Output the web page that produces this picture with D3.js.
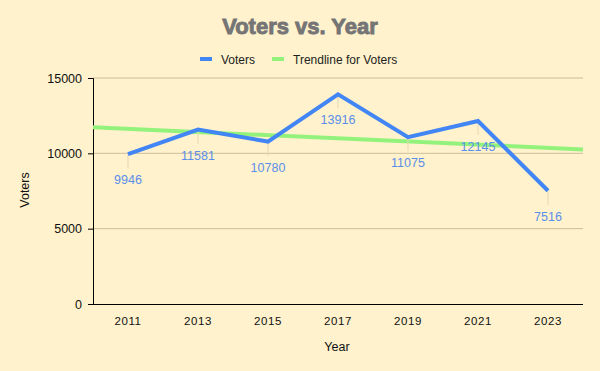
<!DOCTYPE html>
<html>
<head>
<meta charset="utf-8">
<script src="https://cdn.jsdelivr.net/npm/d3@7"></script>
<style>
  body { margin: 0; background: #fff2cc; }
  text { font-family: Arial, "Liberation Sans", sans-serif; }
</style>
</head>
<body>
<svg id="chart" width="600" height="371"></svg>
<script>
// data
const years = ["2011", "2013", "2015", "2017", "2019", "2021", "2023"];
const voters = [9946, 11581, 10780, 13916, 11075, 12145, 7516];
const yTicks = [0, 5000, 10000, 15000];

const svg = d3.select("#chart");
const W = 600, H = 371;
const m = { left: 93, right: 17, top: 78, bottom: 67 };

svg.append("rect").attr("width", W).attr("height", H).attr("fill", "#fff2cc");

const x = d3.scaleBand().domain(years).range([m.left, W - m.right]);
const y = d3.scaleLinear().domain([0, 15000]).range([H - m.bottom, m.top]);
const cx = d => x(d) + x.bandwidth() / 2;

// gridlines
svg.append("g").selectAll("line").data(yTicks.filter(t => t > 0)).join("line")
  .attr("x1", m.left).attr("x2", W - m.right)
  .attr("y1", d => y(d)).attr("y2", d => y(d))
  .attr("stroke", "#cdbd9c").attr("stroke-width", 1);

// y axis
const yAxis = svg.append("g").attr("transform", `translate(${m.left},0)`)
  .call(d3.axisLeft(y).tickValues(yTicks).tickSize(5).tickPadding(6).tickFormat(d3.format("d")));
yAxis.select(".domain").attr("stroke", "#000");
yAxis.selectAll("text").attr("font-size", 12.5).attr("fill", "#111");

// x axis
const xAxis = svg.append("g").attr("transform", `translate(0,${H - m.bottom})`)
  .call(d3.axisBottom(x).tickSize(0).tickPadding(13));
xAxis.select(".domain").attr("stroke", "#000").attr("d", `M${m.left},0.5H${W - m.right}`);
xAxis.selectAll("text").attr("font-size", 11.5).attr("fill", "#111").attr("letter-spacing", 0.6);

// linear trendline (least squares on category index)
const n = voters.length;
const mx = (n - 1) / 2, my = d3.mean(voters);
let sxy = 0, sxx = 0;
voters.forEach((v, i) => { sxy += (i - mx) * (v - my); sxx += (i - mx) * (i - mx); });
const slope = sxy / sxx, icpt = my - slope * mx;
const step = x.step();
const idxX = d3.scaleLinear().domain([0, 1]).range([cx(years[0]), cx(years[0]) + step]);
svg.append("line")
  .attr("x1", idxX(-0.5)).attr("y1", y(icpt + slope * -0.5))
  .attr("x2", idxX(n - 0.5)).attr("y2", y(icpt + slope * (n - 0.5)))
  .attr("stroke", "#93f27c").attr("stroke-width", 4);

// leader lines
svg.append("g").selectAll("line").data(voters).join("line")
  .attr("x1", (d, i) => cx(years[i])).attr("x2", (d, i) => cx(years[i]))
  .attr("y1", d => y(d)).attr("y2", d => y(d) + 14)
  .attr("stroke", "#e3d6b6").attr("stroke-width", 1);

// main line
svg.append("path").datum(voters)
  .attr("d", d3.line().x((d, i) => cx(years[i])).y(d => y(d)))
  .attr("fill", "none").attr("stroke", "#4285f4").attr("stroke-width", 4)
  .attr("stroke-linejoin", "miter");

// data labels
svg.append("g").selectAll("text").data(voters).join("text")
  .attr("x", (d, i) => cx(years[i])).attr("y", d => y(d) + 30)
  .attr("text-anchor", "middle").attr("font-size", 12.5)
  .attr("font-family", "Roboto, sans-serif")
  .attr("fill", "#5a8eea").text(d => d);

// title
svg.append("text").attr("x", 300).attr("y", 34).attr("text-anchor", "middle")
  .attr("font-size", 22).attr("font-weight", 900).attr("fill", "#757575")
  .attr("stroke", "#757575").attr("stroke-width", 0.9)
  .attr("font-family", "'DejaVu Sans', Arial, sans-serif")
  .text("Voters vs. Year");

// legend
const leg = [
  { label: "Voters", color: "#4285f4", x: 200 },
  { label: "Trendline for Voters", color: "#93f27c", x: 272 }
];
const lg = svg.append("g").selectAll("g").data(leg).join("g")
  .attr("transform", d => `translate(${d.x},59)`);
lg.append("rect").attr("x", 0).attr("y", -2).attr("width", 12).attr("height", 4)
  .attr("fill", d => d.color);
lg.append("text").attr("x", 21).attr("y", 4.5).attr("font-size", 12).attr("fill", "#222")
  .text(d => d.label);

// axis titles
svg.append("text").attr("transform", "translate(29,190) rotate(-90)")
  .attr("text-anchor", "middle").attr("font-size", 12.5).attr("fill", "#111").text("Voters");
svg.append("text").attr("x", 337).attr("y", 351)
  .attr("text-anchor", "middle").attr("font-size", 12.5).attr("fill", "#111").text("Year");
</script>
</body>
</html>
